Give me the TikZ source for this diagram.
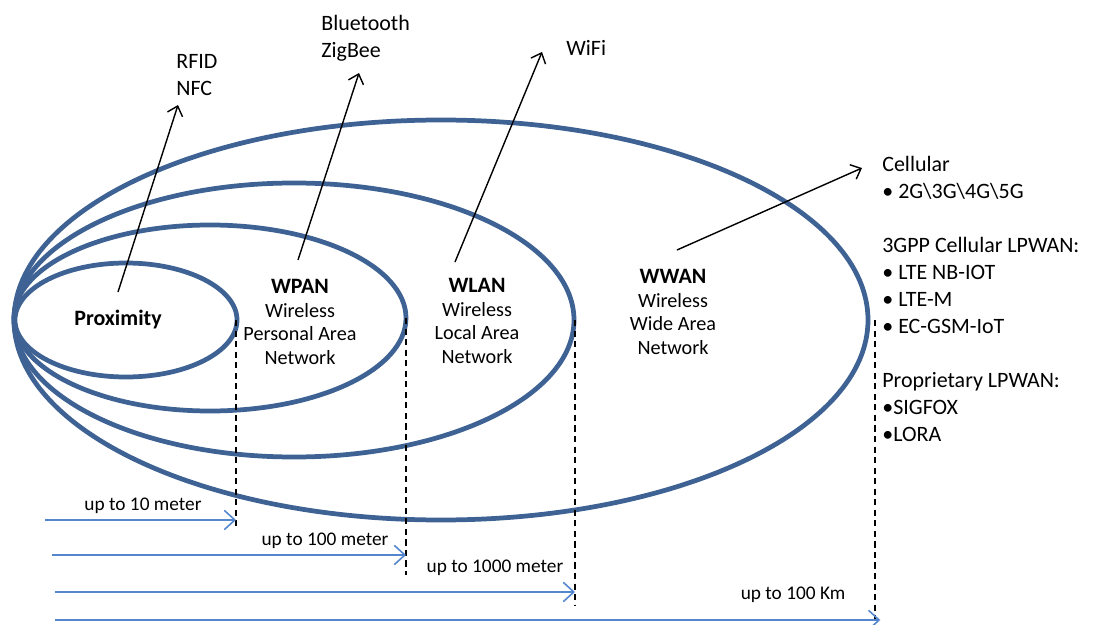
\documentclass[tikz,border=0pt]{standalone}
\usepackage{fontspec}
\setmainfont{Carlito}
\usetikzlibrary{arrows.meta}
\definecolor{ringblue}{RGB}{62,98,148}
\definecolor{reachblue}{RGB}{84,134,206}
\tikzset{
  ring/.style={draw=ringblue, line width=2.7pt},
  reach/.style={reachblue, line width=0.9pt, -{Straight Barb[length=6pt,width=11pt]}},
  pointer/.style={black, line width=0.8pt, -{Straight Barb[length=5pt,width=9pt]}},
  limit/.style={black, line width=0.8pt, dash pattern=on 3.5pt off 2.5pt},
  txt/.style={inner sep=0pt, font=\fontsize{12.5}{15.3}\selectfont, align=left},
  zone/.style={inner sep=0pt, font=\fontsize{11.5}{13.6}\selectfont, align=center},
  distlbl/.style={inner sep=0pt, font=\fontsize{11}{13}\selectfont}
}
\begin{document}
\begin{tikzpicture}[x=0.02cm, y=-0.02cm]
\useasboundingbox (0,0) rectangle (1093,625);
% coverage rings
\draw[ring] (441,320) ellipse [x radius=427, y radius=200];
\draw[ring] (294,320) ellipse [x radius=280, y radius=137];
\draw[ring] (210,318) ellipse [x radius=196, y radius=93];
\draw[ring] (126,320) ellipse [x radius=111, y radius=57];
% zone names
\node[zone] (prox) at (118,320) {{\fontsize{12.5}{15}\selectfont\bfseries Proximity}};
\node[zone] (wpan) at (300,322) {{\fontsize{12.5}{15}\selectfont\bfseries WPAN}\\Wireless\\Personal Area\\Network};
\node[zone] (wlan) at (477,321) {{\fontsize{12.5}{15}\selectfont\bfseries WLAN}\\Wireless\\Local Area\\Network};
\node[zone] (wwan) at (673,312) {{\fontsize{12.5}{15}\selectfont\bfseries WWAN}\\Wireless\\Wide Area\\Network};
% technologies
\node[txt, anchor=north west] (rfid) at (176,54) {RFID\\NFC};
\node[txt, anchor=north west] (bt) at (321,15) {Bluetooth\\ZigBee};
\node[txt, anchor=north west] (wifi) at (566,40) {WiFi};
\node[txt, anchor=north west] (cell) at (882,156) {Cellular\\\textbullet{} 2G\textbackslash 3G\textbackslash 4G\textbackslash 5G};
\node[txt, anchor=north west] (gpp) at (882,237) {3GPP Cellular LPWAN:\\\textbullet{} LTE NB-IOT\\\textbullet{} LTE-M\\\textbullet{} EC-GSM-IoT};
\node[txt, anchor=north west] (prop) at (882,372) {Proprietary LPWAN:\\\textbullet SIGFOX\\\textbullet LORA};
% pointers
\coordinate (proxT) at (118,292);
\coordinate (proxH) at (178,105);
\coordinate (wpanT) at (298,260);
\coordinate (wpanH) at (359,73);
\coordinate (wlanT) at (455,262);
\coordinate (wlanH) at (542,52);
\coordinate (wwanT) at (677,250);
\coordinate (wwanH) at (862,168);
\draw[pointer] (proxT) -- (proxH);
\draw[pointer] (wpanT) -- (wpanH);
\draw[pointer] (wlanT) -- (wlanH);
\draw[pointer] (wwanT) -- (wwanH);
% range limits
\coordinate (l1t) at (236,320); \coordinate (l1b) at (236,530);
\coordinate (l2t) at (406,318); \coordinate (l2b) at (406,575);
\coordinate (l3t) at (575,320); \coordinate (l3b) at (575,605);
\coordinate (l4t) at (875,320); \coordinate (l4b) at (875,625);
\draw[limit] (l1t) -- (l1b);
\draw[limit] (l2t) -- (l2b);
\draw[limit] (l3t) -- (l3b);
\draw[limit] (l4t) -- (l4b);
% ranges
\coordinate (r1) at (45,520);
\coordinate (r2) at (52,555);
\coordinate (r3) at (55,592);
\coordinate (r4) at (55,620);
\draw[reach] (r1) -- (r1 -| l1t);
\draw[reach] (r2) -- (r2 -| l2t);
\draw[reach] (r3) -- (r3 -| l3t);
\draw[reach] (r4) -- ([xshift=3pt]r4 -| l4t);
\node[distlbl] (d1) at (143,506) {up to 10 meter};
\node[distlbl] (d2) at (325,541) {up to 100 meter};
\node[distlbl] (d3) at (495,568) {up to 1000 meter};
\node[distlbl] (d4) at (793,595) {up to 100 Km};
\end{tikzpicture}
\end{document}
